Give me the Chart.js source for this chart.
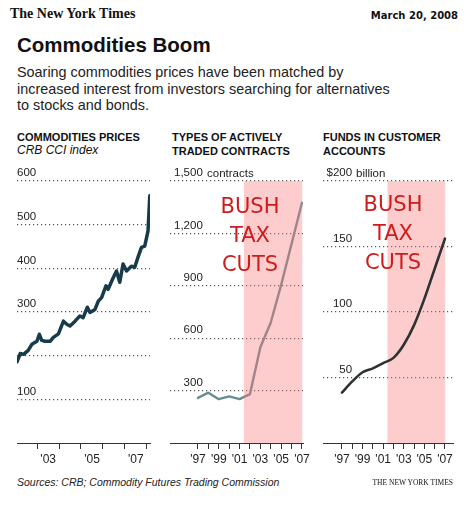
<!DOCTYPE html>
<html>
<head>
<meta charset="utf-8">
<script src="https://cdn.jsdelivr.net/npm/chart.js@4.4.1/dist/chart.umd.min.js"></script>
<style>
  body { margin: 0; background: #fff; }
  #page { position: relative; width: 475px; height: 511px; overflow: hidden;
          font-family: "Liberation Sans", Arial, sans-serif; color: #111; background: #fff; }
  .t { position: absolute; white-space: nowrap; }
  .hdr { font-weight: bold; font-size: 11px; line-height: 14px; }
  .cuts { position: absolute; text-align: center; font-family: "DejaVu Sans", sans-serif;
          font-size: 21px; line-height: 29px; color: #cc1c1c; width: 80px; }
  canvas { position: absolute; }
</style>
</head>
<body>
<div id="page">
  <div class="t" style="left:10px;top:6px;font:bold 14px/16px 'Liberation Serif',serif;">The New York Times</div>
  <div class="t" style="right:17px;top:10px;font:bold 10px/12px 'DejaVu Sans',sans-serif;">March 20, 2008</div>
  <div class="t" style="left:17px;top:35px;font-weight:bold;font-size:20.5px;line-height:20px;">Commodities Boom</div>
  <div class="t" style="left:17px;top:64px;font-size:14.4px;line-height:16.5px;color:#222;">Soaring commodities prices have been matched by<br>increased interest from investors searching for alternatives<br>to stocks and bonds.</div>

  <div class="t hdr" style="left:17px;top:130px;">COMMODITIES PRICES</div>
  <div class="t" style="left:17px;top:143px;font-style:italic;font-size:12px;line-height:14px;">CRB CCI index</div>
  <div class="t hdr" style="left:172px;top:130px;">TYPES OF ACTIVELY<br>TRADED CONTRACTS</div>
  <div class="t hdr" style="left:323px;top:130px;">FUNDS IN CUSTOMER<br>ACCOUNTS</div>

  <canvas id="prices"></canvas>
  <canvas id="contracts"></canvas>
  <canvas id="funds"></canvas>

  <div class="t" style="left:207px;top:166px;font-size:11.5px;line-height:14px;color:#222;">contracts</div>
  <div class="t" style="left:356px;top:166px;font-size:11.5px;line-height:14px;color:#222;">billion</div>

  <div class="cuts" style="left:210px;top:192px;">BUSH<br>TAX<br>CUTS</div>
  <div class="cuts" style="left:353px;top:190px;">BUSH<br>TAX<br>CUTS</div>

  <div class="t" style="left:17px;top:476px;font-style:italic;font-size:10.5px;line-height:13px;color:#222;">Sources: CRB; Commodity Futures Trading Commission</div>
  <div class="t" style="right:22px;top:478px;font:7.5px/10px 'Liberation Serif',serif;">THE NEW YORK TIMES</div>
</div>

<script>
// CRB CCI index
const priceDates = [2002.08, 2002.23, 2002.38, 2002.59, 2002.76, 2002.99, 2003.10, 2003.21, 2003.36,
  2003.59, 2003.74, 2003.97, 2004.20, 2004.35, 2004.50, 2004.73, 2004.95, 2005.10, 2005.29, 2005.41,
  2005.64, 2005.79, 2005.94, 2006.14, 2006.24, 2006.44, 2006.62, 2006.77, 2006.92, 2007.08, 2007.30,
  2007.45, 2007.60, 2007.76, 2007.91, 2008.06, 2008.14];
const priceValues = [186, 205, 203, 212, 226, 233, 249, 235, 233,
  233, 242, 250, 279, 272, 268, 279, 291, 287, 311, 299,
  306, 325, 333, 360, 352, 375, 394, 368, 410, 394, 405,
  402, 425, 448, 451, 486, 566];
const priceTickYears = [2003, 2004, 2005, 2006, 2007, 2008];

// actively traded contracts, middle panel
const contractYears = [1997, 1998, 1999, 2000, 2001, 2002, 2003, 2004, 2005, 2006, 2007];
const contractValues = [258, 288, 251, 267, 251, 280, 548, 690, 905, 1140, 1375];

// funds in customer accounts ($ billion), right panel
const fundYears = [1997, 1998, 1999, 2000, 2001, 2002, 2003, 2004, 2005, 2006, 2007];
const fundValues = [38.5, 47, 54, 57, 61, 65, 75, 90, 110, 133, 156];

const taxCutSpan = [2001.4, 2007.05];

const FONT = '"Liberation Sans", Arial, sans-serif';
const PAD = 14;

function withComma(v) {
  return v >= 1000 ? Math.floor(v / 1000) + ',' + String(v % 1000).padStart(3, '0') : String(v);
}

function yearLabel(v) {
  return v % 2 === 1 ? "'" + String(v).slice(2) : '';
}

function makePanel(id, cfg) {
  const canvas = document.getElementById(id);
  canvas.width = cfg.axisWidth + PAD * 2;
  canvas.height = 305;
  canvas.style.left = (cfg.axisLeft - PAD) + 'px';
  canvas.style.top = '165px';

  const line = {
    data: cfg.xs.map((x, i) => ({ x: x, y: cfg.ys[i] })),
    borderColor: cfg.color,
    borderWidth: cfg.lineWidth,
    pointRadius: 0,
    fill: false,
    tension: 0,
    cubicInterpolationMode: cfg.smooth ? 'monotone' : 'default',
    borderJoinStyle: 'round',
    borderCapStyle: 'round'
  };
  const datasets = [line];
  if (cfg.shade) {
    const band = {
      data: cfg.shade.map(x => ({ x: x, y: cfg.yMax })),
      fill: 'origin',
      backgroundColor: 'rgba(250,120,120,0.38)',
      borderColor: 'rgba(0,0,0,0)',
      borderWidth: 0,
      pointRadius: 0
    };
    // first dataset is drawn last, so it ends up on top
    if (cfg.shadeOnTop) datasets.unshift(band); else datasets.push(band);
  }

  return new Chart(canvas.getContext('2d'), {
    type: 'line',
    data: { datasets },
    options: {
      responsive: false,
      animation: false,
      events: [],
      layout: { padding: { top: 16, left: PAD, right: PAD, bottom: 0 } },
      plugins: { legend: { display: false }, tooltip: { enabled: false } },
      scales: {
        x: {
          type: 'linear',
          min: cfg.xMin,
          max: cfg.xMax,
          afterBuildTicks: s => { s.ticks = cfg.xTicks.map(v => ({ value: v })); },
          afterFit: s => { s.height = 27; },
          grid: { drawOnChartArea: false, drawTicks: true, tickLength: 6, tickColor: '#333', tickWidth: 1 },
          border: { display: true, color: '#333', width: 1 },
          ticks: {
            autoSkip: false,
            maxRotation: 0,
            padding: 3,
            labelOffset: cfg.labelOffset || 0,
            color: '#222',
            font: { family: FONT, size: 12 },
            callback: v => yearLabel(v)
          }
        },
        y: {
          type: 'linear',
          min: 0,
          max: cfg.yMax,
          afterFit: s => { s.width = 0; },
          grid: {
            drawTicks: false,
            lineWidth: 1.2,
            color: c => (c.tick && c.tick.value === 0) ? 'rgba(0,0,0,0)' : '#555'
          },
          border: { display: false, dash: [1.2, 2.8] },
          ticks: {
            stepSize: cfg.yStep,
            mirror: true,
            crossAlign: 'far',
            padding: cfg.labelPad,
            labelOffset: -8,
            color: '#222',
            font: { family: FONT, size: 11.5 },
            callback: cfg.yLabel
          }
        }
      }
    }
  });
}

makePanel('prices', {
  axisLeft: 17, axisWidth: 133,
  xMin: 2002.08, xMax: 2008.15, xTicks: priceTickYears, labelOffset: 11,
  yMax: 600, yStep: 100, labelPad: 0,
  yLabel: v => (v === 0 || v === 200) ? '' : String(v),
  xs: priceDates, ys: priceValues,
  color: '#173b4b', lineWidth: 3.5
});

makePanel('contracts', {
  axisLeft: 170, axisWidth: 133,
  xMin: 1994.31, xMax: 2007.1, xTicks: contractYears,
  yMax: 1500, yStep: 300, labelPad: 4,
  yLabel: v => v === 0 ? '' : withComma(v),
  xs: contractYears, ys: contractValues,
  color: 'rgb(105,140,148)', lineWidth: 2.4,
  shade: taxCutSpan, shadeOnTop: true
});

makePanel('funds', {
  axisLeft: 323, axisWidth: 130,
  xMin: 1995.16, xMax: 2007.78, xTicks: fundYears,
  yMax: 200, yStep: 50, labelPad: 3.5,
  yLabel: v => v === 0 ? '' : (v === 200 ? '$200' : String(v)),
  xs: fundYears, ys: fundValues,
  color: 'rgb(45,50,50)', lineWidth: 2.6, smooth: true,
  shade: taxCutSpan, shadeOnTop: false
});
</script>
</body>
</html>
